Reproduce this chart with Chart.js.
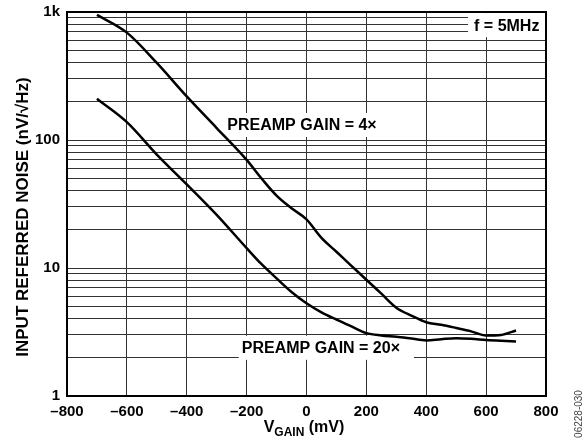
<!DOCTYPE html>
<html>
<head>
<meta charset="utf-8">
<script src="https://cdn.jsdelivr.net/npm/chart.js@4/dist/chart.umd.min.js"></script>
<style>
  html, body { margin: 0; padding: 0; background: #fff; }
  canvas { display: block; }
</style>
</head>
<body>
<canvas id="noiseChart" width="587" height="442"></canvas>
<script>
// valeurs
const vGain = [-700, -600, -500, -400, -300, -200, -150, -100, -50, 0, 50, 100, 150, 200, 250, 300, 350, 400, 450, 500, 550, 600, 650, 700];
const gain4x = [950, 690, 400, 219, 124, 70, 50, 36.8, 29.3, 24, 17.2, 13.4, 10.4, 8.1, 6.3, 4.9, 4.25, 3.77, 3.6, 3.4, 3.2, 2.97, 3.0, 3.25];
const gain20x = [210, 138, 77, 45, 26, 14.3, 10.7, 8.3, 6.5, 5.3, 4.5, 3.95, 3.5, 3.1, 2.97, 2.9, 2.81, 2.72, 2.78, 2.83, 2.8, 2.74, 2.7, 2.67];

const xTicks = [-800, -600, -400, -200, 0, 200, 400, 600, 800];
const yMajor = [1, 10, 100, 1000];
const yMajorLabels = ['1', '10', '100', '1k'];

const FONT = '"Liberation Sans", Arial, Helvetica, sans-serif';
Chart.defaults.font.family = FONT;
Chart.defaults.font.weight = 'bold';
Chart.defaults.font.size = 15;
Chart.defaults.color = '#000';

// grille log : 1..9 par décade
const yGrid = [];
for (let d = 1; d < 1000; d *= 10) {
    for (let m = 1; m < 10; m++) yGrid.push(m * d);
}
yGrid.push(1000);

// étiquettes avec fond blanc (placées en coordonnées de données)
const notes = [
    { text: 'PREAMP GAIN = 4×', x: -15, y: 131, align: 'center', padL: 4, padR: 4 },
    { text: 'PREAMP GAIN = 20×', x: 48, y: 2.38, align: 'center', padL: 3, padR: 14 },
    { text: 'f = 5MHz', x: 778, y: 790, align: 'right', padL: 6, padR: 8 }
];

const notesPlugin = {
    id: 'notes',
    beforeDatasetsDraw(chart) {
        const { ctx, scales } = chart;
        ctx.save();
        ctx.font = 'bold 16px ' + FONT;
        ctx.textBaseline = 'middle';
        notes.forEach(n => {
            const px = scales.x.getPixelForValue(n.x);
            const py = scales.y.getPixelForValue(n.y);
            const w = ctx.measureText(n.text).width;
            const left = n.align === 'right' ? px - w : px - w / 2;
            ctx.fillStyle = '#fff';
            ctx.fillRect(left - n.padL, py - 12, w + n.padL + n.padR, 24);
            ctx.fillStyle = '#000';
            ctx.textAlign = 'left';
            ctx.fillText(n.text, left, py + 1);
        });
        ctx.restore();
    },
    afterDraw(chart) {
        const { ctx, chartArea: a } = chart;
        ctx.save();
        // cadre du graphique
        ctx.strokeStyle = '#000';
        ctx.lineWidth = 2;
        ctx.strokeRect(a.left, a.top, a.right - a.left, a.bottom - a.top);

        // titre axe Y
        ctx.font = 'bold 17px ' + FONT;
        ctx.fillStyle = '#000';
        ctx.textAlign = 'center';
        ctx.textBaseline = 'middle';
        ctx.translate(23, 217);
        ctx.rotate(-Math.PI / 2);
        ctx.fillText('INPUT REFERRED NOISE (nV/√Hz)', 0, 0);
        ctx.restore();

        // titre axe X avec indice
        ctx.save();
        ctx.fillStyle = '#000';
        ctx.textBaseline = 'alphabetic';
        ctx.textAlign = 'left';
        const big = 'bold 16px ' + FONT, small = 'bold 12px ' + FONT;
        ctx.font = big; const wV = ctx.measureText('V').width;
        ctx.font = small; const wSub = ctx.measureText('GAIN').width;
        ctx.font = big; const wRest = ctx.measureText(' (mV)').width;
        let x = 304 - (wV + wSub + wRest) / 2;
        const base = 432;
        ctx.font = big; ctx.fillText('V', x, base); x += wV;
        ctx.font = small; ctx.fillText('GAIN', x, base + 4); x += wSub;
        ctx.font = big; ctx.fillText(' (mV)', x, base);

        // référence de figure
        ctx.font = '10px ' + FONT;
        ctx.fillStyle = '#444';
        ctx.translate(579, 414);
        ctx.rotate(-Math.PI / 2);
        ctx.textAlign = 'center';
        ctx.textBaseline = 'middle';
        ctx.fillText('06228-030', 0, 0);
        ctx.restore();
    }
};

const toPoints = arr => vGain.map((v, i) => ({ x: v, y: arr[i] }));

new Chart(document.getElementById('noiseChart').getContext('2d'), {
    type: 'line',
    data: {
        datasets: [
            { label: 'PREAMP GAIN = 4×', data: toPoints(gain4x) },
            { label: 'PREAMP GAIN = 20×', data: toPoints(gain20x) }
        ]
    },
    options: {
        responsive: false,
        animation: false,
        layout: { padding: { top: 12, right: 41, left: 0, bottom: 0 } },
        elements: {
            line: { borderColor: '#000', borderWidth: 2.5, cubicInterpolationMode: 'monotone' },
            point: { radius: 0 }
        },
        plugins: {
            legend: { display: false },
            tooltip: { enabled: false }
        },
        scales: {
            x: {
                type: 'linear',
                min: -800,
                max: 800,
                afterBuildTicks: scale => { scale.ticks = xTicks.map(v => ({ value: v })); },
                afterFit: scale => {
                    scale.height = 46;
                    scale.paddingLeft = 0;
                    scale.paddingRight = 0;
                },
                ticks: {
                    padding: 7,
                    font: { size: 15, weight: 'bold' },
                    callback: v => (v < 0 ? '–' + Math.abs(v) : String(v))
                },
                grid: { color: '#333', lineWidth: 1, drawTicks: false },
                border: { color: '#000', width: 2 }
            },
            y: {
                type: 'logarithmic',
                min: 1,
                max: 1000,
                afterBuildTicks: scale => { scale.ticks = yGrid.map(v => ({ value: v })); },
                afterFit: scale => {
                    scale.width = 67;
                    scale.paddingTop = 0;
                    scale.paddingBottom = 0;
                },
                ticks: {
                    padding: 7,
                    autoSkip: false,
                    font: { size: 15, weight: 'bold' },
                    callback: v => {
                        const i = yMajor.indexOf(v);
                        return i >= 0 ? yMajorLabels[i] : '';
                    }
                },
                grid: { color: '#333', lineWidth: 1, drawTicks: false },
                border: { color: '#000', width: 2 }
            }
        }
    },
    plugins: [notesPlugin]
});
</script>
</body>
</html>
